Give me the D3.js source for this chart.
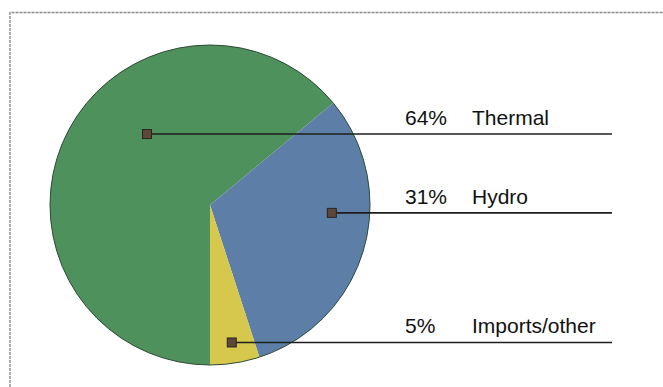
<!DOCTYPE html>
<html>
<head>
<meta charset="utf-8">
<script src="https://cdn.jsdelivr.net/npm/d3@7"></script>
<style>
  html, body { margin: 0; padding: 0; background: #ffffff; }
  svg { display: block; }
</style>
</head>
<body>
<svg id="chart" width="663" height="387"></svg>
<script>
// ---- data ----
const categories = ["Thermal", "Hydro", "Imports/other"];
const values = [64, 31, 5];
const percentLabels = ["64%", "31%", "5%"];

// ---- style / layout ----
const colors = ["#4f915c", "#5d7fa7", "#d5c84c"];
// marker placement inside each slice: angle (deg, clockwise from top) and radius fraction
const markerAngles = [318.4, 93.7, 171];
const markerRadii = [0.593, 0.763, 0.87];

const W = 663, H = 387;
const cx = 210, cy = 205, R = 160;
const lineEnd = 612;
const pctX = 405, nameX = 472;

const svg = d3.select("#chart");

// frame
svg.append("path")
  .attr("d", `M10,${H} L10,12.5 L${W},12.5`)
  .attr("fill", "none")
  .attr("stroke", "#8a8a8a")
  .attr("stroke-width", 1.4)
  .attr("stroke-dasharray", "3,1");

const pie = d3.pie().sort(null).value(d => d)
  .startAngle(Math.PI).endAngle(3 * Math.PI);
const arcs = pie(values);
const arc = d3.arc().innerRadius(0).outerRadius(R);

const g = svg.append("g").attr("transform", `translate(${cx},${cy})`);
g.selectAll("path.slice").data(arcs).enter().append("path")
  .attr("class", "slice")
  .attr("d", arc)
  .attr("fill", (d, i) => colors[i]);

g.append("circle").attr("r", R)
  .attr("fill", "none")
  .attr("stroke", "#2f4a38")
  .attr("stroke-width", 1);

// leaders
const pts = categories.map((c, i) => {
  const a = markerAngles[i] * Math.PI / 180;
  const r = markerRadii[i] * R;
  return { x: cx + r * Math.sin(a), y: cy - r * Math.cos(a) };
});

categories.forEach((c, i) => {
  const p = pts[i];
  svg.append("line")
    .attr("x1", p.x).attr("y1", p.y)
    .attr("x2", lineEnd).attr("y2", p.y)
    .attr("stroke", "#1e1e1e")
    .attr("stroke-width", 1.6);
  svg.append("rect")
    .attr("x", p.x - 4.5).attr("y", p.y - 4.5)
    .attr("width", 9).attr("height", 9)
    .attr("fill", "#5b4838")
    .attr("stroke", "#2a2420")
    .attr("stroke-width", 1);
  svg.append("text")
    .attr("x", pctX).attr("y", p.y - 9)
    .attr("font-family", "Liberation Sans, Arial, sans-serif")
    .attr("font-size", 21)
    .attr("fill", "#111")
    .text(percentLabels[i]);
  svg.append("text")
    .attr("x", nameX).attr("y", p.y - 9)
    .attr("font-family", "Liberation Sans, Arial, sans-serif")
    .attr("font-size", 21)
    .attr("fill", "#111")
    .text(c);
});
</script>
</body>
</html>
